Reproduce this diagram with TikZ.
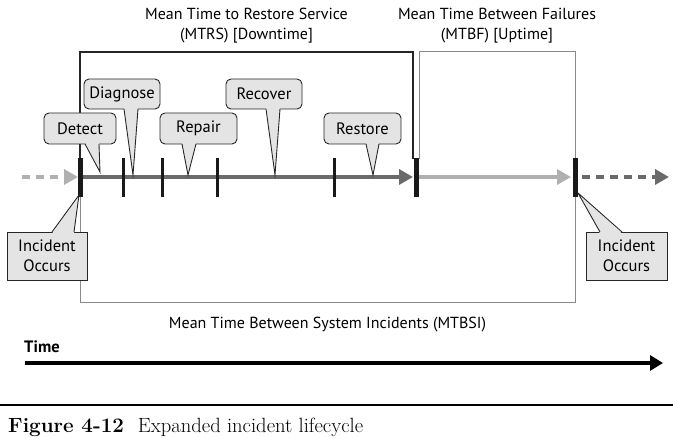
\documentclass[tikz,border=0pt]{standalone}
\usepackage{fontspec}
\setsansfont{PT Sans}
\usetikzlibrary{arrows.meta,calc}
\definecolor{cfill}{HTML}{E4E4E4}
\definecolor{darkline}{HTML}{6A6A6A}
\definecolor{lightline}{HTML}{B0B0B0}
\definecolor{brgray}{HTML}{8A8A8A}
\begin{document}
\begin{tikzpicture}[x=1pt,y=-1pt,
  lbl/.style={font=\sffamily\fontsize{16}{20}\selectfont, align=center, inner sep=0pt},
  callout/.style={draw=black!85, line width=0.9pt, fill=cfill, rounded corners=5pt,
    font=\sffamily\fontsize{16.5}{20}\selectfont, inner sep=0pt},
  incbox/.style={draw=black!85, line width=0.9pt, fill=cfill,
    font=\sffamily\fontsize{16.5}{20}\selectfont, align=center, inner sep=0pt},
  ptrfill/.style={fill=cfill},
  ptrline/.style={draw=black!85, line width=0.9pt, line join=miter},
  thicktick/.style={fill=black!90},
  thintick/.style={fill=black!90},
  bigtip/.style={-{Triangle[length=14pt,width=15pt]}},
]
\useasboundingbox (0,0) rectangle (673,438);

% brackets
\draw[black!85, line width=1.1pt] (80,196) -- (80,52) -- (413,52) -- (413,159);
\draw[brgray, line width=1pt] (419,159) -- (419,52) -- (575,52) -- (575,159);
\draw[brgray, line width=1pt] (80,196) -- (80,303) -- (575,303) -- (575,196);

% timeline
\draw[lightline, line width=4pt, dash pattern=on 8pt off 6pt, bigtip] (22,177) -- (78,177);
\draw[darkline, line width=4pt, bigtip] (82,177) -- (413,177);
\draw[lightline, line width=4pt, bigtip] (419,177) -- (571,177);
\draw[darkline, line width=4pt, dash pattern=on 8pt off 6pt, bigtip] (582,177) -- (669,177);

% ticks
\fill[thicktick] (77.5,158) rectangle (83,197);
\fill[thintick] (121.5,158) rectangle (125,197);
\fill[thintick] (160.5,158) rectangle (164,197);
\fill[thintick] (215.5,158) rectangle (219,197);
\fill[thintick] (332.5,158) rectangle (336,197);
\fill[thicktick] (413.5,158) rectangle (419,197);
\fill[thicktick] (572.5,158) rectangle (578,197);

% top labels
\node[lbl] (mtrs) at (246.5,26) {Mean Time to Restore Service\\(MTRS) [Downtime]};
\node[lbl] (mtbf) at (497,26) {Mean Time Between Failures\\(MTBF) [Uptime]};

% callouts
\node[callout, minimum width=72pt, minimum height=31pt] (detect) at (80,128.5) {Detect};
\node[callout, minimum width=76pt, minimum height=30pt] (diagnose) at (122,94) {Diagnose};
\node[callout, minimum width=77pt, minimum height=31pt] (repair) at (198.5,128.5) {Repair};
\node[callout, minimum width=76pt, minimum height=30pt] (recover) at (264,94) {Recover};
\node[callout, minimum width=77pt, minimum height=31pt] (restore) at (362.5,128.5) {Restore};

\coordinate (tdetect) at (100,172);
\coordinate (tdiag) at (133,175);
\coordinate (trepair) at (188,175);
\coordinate (trecover) at (275,175);
\coordinate (trestore) at (373,175);

\fill[ptrfill] (85,142.5) -- (tdetect) -- (99,142.5) -- cycle;
\draw[ptrline] (85,144) -- (tdetect) -- (99,144);
\fill[ptrfill] (124,107.5) -- (tdiag) -- (138,107.5) -- cycle;
\draw[ptrline] (124,109) -- (tdiag) -- (138,109);
\fill[ptrfill] (182,142.5) -- (trepair) -- (196,142.5) -- cycle;
\draw[ptrline] (182,144) -- (trepair) -- (196,144);
\fill[ptrfill] (266,107.5) -- (trecover) -- (280,107.5) -- cycle;
\draw[ptrline] (266,109) -- (trecover) -- (280,109);
\fill[ptrfill] (366,142.5) -- (trestore) -- (379,142.5) -- cycle;
\draw[ptrline] (366,144) -- (trestore) -- (379,144);

% incident boxes
\node[incbox, minimum width=80pt, minimum height=48pt] (incl) at (47,256) {Incident\\Occurs};
\node[incbox, minimum width=81pt, minimum height=48pt] (incr) at (626.5,256) {Incident\\Occurs};
\coordinate (tincl) at (79,195);
\coordinate (tincr) at (578,193);
\fill[ptrfill] (52,233.5) -- (tincl) -- (74,233.5) -- cycle;
\draw[ptrline] (52,232) -- (tincl) -- (74,232);
\fill[ptrfill] (600,233.5) -- (tincr) -- (622,233.5) -- cycle;
\draw[ptrline] (600,232) -- (tincr) -- (622,232);

% MTBSI
\node[lbl] (mtbsi) at (327.5,325) {Mean Time Between System Incidents (MTBSI)};

% time axis
\node[lbl, font=\sffamily\bfseries\fontsize{16.5}{20}\selectfont, anchor=west] (time) at (24,347) {Time};
\coordinate (ta) at (25,363);
\coordinate (tb) at (663,363);
\draw[black, line width=4pt, -{Triangle[length=13pt,width=15pt]}] (ta) -- (tb);

% rule and caption
\draw[black, line width=2pt] (0,405) -- (673,405);
\node[anchor=base west, inner sep=0pt, font=\fontsize{20.6}{24}\selectfont] (cap) at (8,433) {\textbf{Figure 4-12}\hspace{14pt}Expanded incident lifecycle};
\end{tikzpicture}
\end{document}
